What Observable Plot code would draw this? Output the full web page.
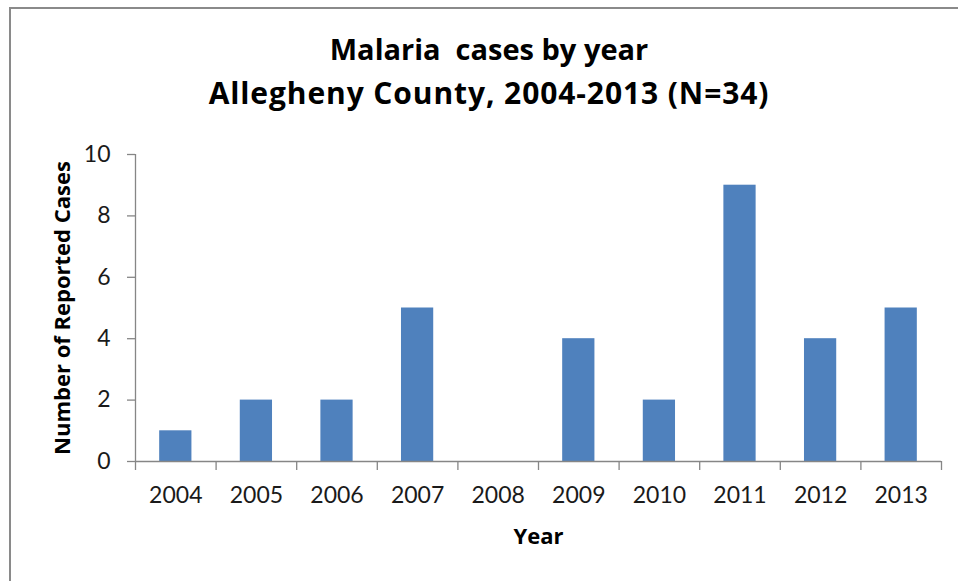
<!DOCTYPE html>
<html>
<head>
<meta charset="utf-8">
<script src="https://cdn.jsdelivr.net/npm/d3@7"></script>
<script src="https://cdn.jsdelivr.net/npm/@observablehq/plot@0.6"></script>
<style>
  html, body { margin: 0; padding: 0; background: #fff; }
  #wrap { position: relative; width: 958px; height: 581px; overflow: hidden; font-family: Lato, "Open Sans", sans-serif; }
  #border { position: absolute; left: 9px; top: 7px; width: 960px; height: 600px; border-left: 2px solid #8a8a8a; border-top: 2px solid #8a8a8a; box-sizing: border-box; }
  .title { position: absolute; left: 0; width: 978px; text-align: center; font-family: "Open Sans", Lato, sans-serif; font-weight: bold; font-size: 29px; color: #000; line-height: 1; }
  #t1 { top: 34px; }
  #t2 { top: 78px; font-size: 30px; letter-spacing: 0.9px; }
  #chart { position: absolute; left: 0; top: 0; }
</style>
</head>
<body>
<div id="wrap">
  <div id="border"></div>
  <div class="title" id="t1">Malaria&nbsp; cases by year</div>
  <div class="title" id="t2">Allegheny County, 2004-2013 (N=34)</div>
  <div id="chart"></div>
</div>
<script>
const years = ["2004","2005","2006","2007","2008","2009","2010","2011","2012","2013"];
const cases = [1, 2, 2, 5, 0, 4, 2, 9, 4, 5];
const yTicks = [0, 2, 4, 6, 8, 10];
const xTitle = "Year";
const yTitle = "Number of Reported Cases";

const data = years.map((y, i) => ({year: y, cases: cases[i]}));

const W = 958, H = 581;
const mL = 135, mR = 17, mT = 154, mB = 120;
const step = (W - mL - mR) / years.length;
const axisColor = "#868686";

const chart = Plot.plot({
  width: W,
  height: H,
  marginLeft: mL,
  marginRight: mR,
  marginTop: mT,
  marginBottom: mB,
  style: {fontFamily: "Lato, 'Open Sans', sans-serif", background: "transparent", color: "#1a1a1a"},
  x: {domain: years, paddingInner: 0.6, paddingOuter: 0.3, round: false},
  y: {domain: [0, 10]},
  marks: [
    Plot.barY(data, {x: "year", y: "cases", fill: "#4f81bd"}),
    // x axis line
    Plot.ruleY([0], {stroke: axisColor, strokeWidth: 1.3}),
    // y axis line
    Plot.ruleX([years[0]], {dx: -step / 2, stroke: axisColor, strokeWidth: 1.3}),
    // category boundary ticks
    Plot.ruleX(years, {x: d => d, y1: 0, y2: 0, insetBottom: -9, dx: -step / 2, stroke: axisColor, strokeWidth: 1.3}),
    Plot.ruleX([years[years.length - 1]], {x: d => d, y1: 0, y2: 0, insetBottom: -9, dx: step / 2, stroke: axisColor, strokeWidth: 1.3}),
    // x tick labels
    Plot.axisX({tickSize: 0, tickPadding: 34, fontSize: 23, fill: "#1a1a1a", label: null, textAnchor: "middle", lineAnchor: "middle"}),
    // y axis
    Plot.axisY(yTicks, {tickSize: 8, tickPadding: 17, fontSize: 23, fill: "#1a1a1a", stroke: axisColor, strokeWidth: 1.3, label: null}),
    // axis titles
    Plot.text([xTitle], {frameAnchor: "bottom", dy: 75, lineAnchor: "middle", fontSize: 22, fontWeight: "bold", fontFamily: "Open Sans", fill: "#000"}),
    Plot.text([yTitle], {frameAnchor: "left", textAnchor: "middle", lineAnchor: "middle", rotate: -90, dx: -73, fontSize: 22, fontWeight: "bold", fontFamily: "Open Sans", fill: "#000"})
  ]
});
document.getElementById("chart").appendChild(chart);
</script>
</body>
</html>
